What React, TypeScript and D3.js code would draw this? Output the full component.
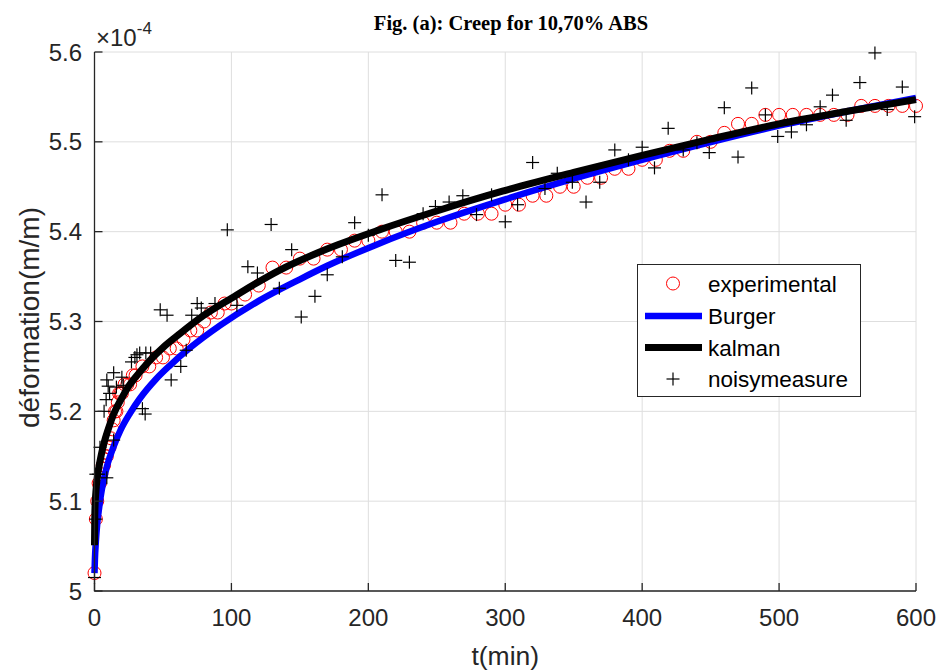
import React from "react";
import * as d3 from "d3";

// Experimental data (t in min, deformation in 1e-4 m/m)
const expT = [0,1,2,3,4,5,6,7,8,9,10,11,12,13,14,15,16,17,18,19,20,22,24,26,28,30,35,40,45,50,55,60,65,70,75,80,85,90,95,100,
  110,120,130,140,150,160,170,180,190,200,210,220,230,240,250,260,270,280,290,300,310,320,330,340,350,360,370,380,390,400,
  410,420,430,440,450,460,470,480,490,500,510,520,530,540,550,560,570,580,590,600];
const expV = [5.02,5.08,5.10,5.12,5.12,5.13,5.14,5.14,5.15,5.15,5.16,5.16,5.17,5.18,5.19,5.20,5.20,5.21,5.22,5.22,5.22,5.23,5.23,5.23,5.24,5.24,5.25,5.25,5.26,5.26,5.27,5.27,5.28,5.29,5.29,5.30,5.31,5.31,5.32,5.32,
  5.33,5.34,5.36,5.36,5.37,5.37,5.38,5.38,5.39,5.39,5.40,5.40,5.40,5.41,5.41,5.41,5.42,5.42,5.42,5.43,5.43,5.44,5.44,5.45,5.45,5.46,5.46,5.47,5.47,5.48,
  5.48,5.49,5.49,5.50,5.50,5.51,5.52,5.52,5.53,5.53,5.53,5.53,5.53,5.53,5.53,5.54,5.54,5.54,5.54,5.54];

// Burger model
const burgerT = [0,0.3,1,2,3,4.5,6.5,9.3,14,19,26,33,45,55,70,92,120,150,170,205,250,300,350,420,500,550,600];
const burgerV = [5.02,5.035,5.055,5.075,5.088,5.105,5.122,5.14,5.161,5.179,5.198,5.214,5.236,5.251,5.271,5.296,5.323,5.347,5.362,5.385,5.411,5.436,5.459,5.488,5.518,5.534,5.549];

// Kalman estimate
const kalmanT = [0,0.2,0.5,1,2,3,5,7,10,14,20,25,30,40,50,62,80,100,135,172,208,250,298,350,400,450,500,550,600];
const kalmanV = [5.051,5.082,5.098,5.110,5.126,5.136,5.152,5.165,5.180,5.197,5.215,5.228,5.238,5.256,5.271,5.286,5.307,5.326,5.357,5.382,5.402,5.423,5.445,5.466,5.485,5.503,5.520,5.534,5.547];

// Noisy measurements
const noisyT = [0,1,1,3,4,7,9,8.5,10,11,9,14,14,16,20,21,27,29.5,31,33,37.5,41,35,37,
  48,53,56,63,67,71,75,78,88,97,104,112,119,129,135,144,151,161,170,181,190,200,210,220,230,240,249,259,269,279,290,300,309,
  320,329,338,349,359,369,380,390,400,409,419,430,440,449,460,470,480,490,499,509,520,530,539,549,559,570,579,590,599];
const noisyV = [5.015,5.08,5.13,5.13,5.16,5.20,5.126,5.213,5.228,5.22,5.235,5.168,5.243,5.227,5.238,5.229,5.255,5.26,5.263,5.265,5.265,5.265,5.203,5.197,
  5.313,5.307,5.235,5.25,5.268,5.307,5.32,5.315,5.32,5.402,5.318,5.361,5.354,5.408,5.337,5.38,5.305,5.328,5.352,5.372,5.41,5.396,5.441,5.368,5.366,5.42,5.428,5.433,5.44,5.419,5.441,5.411,5.43,
  5.477,5.448,5.465,5.455,5.433,5.455,5.491,5.48,5.494,5.471,5.515,5.491,5.499,5.488,5.538,5.483,5.56,5.53,5.506,5.511,5.519,5.539,5.552,5.524,5.566,5.599,5.536,5.561,5.528];

const xTicks = [0,100,200,300,400,500,600];
const yTicks = [5,5.1,5.2,5.3,5.4,5.5,5.6];
const legendLabels = ["experimental","Burger","kalman","noisymeasure"];

const W = 938, H = 671;
const FONT = "'Liberation Sans', Arial, Helvetica, sans-serif";
const AX = "#262626";

export default function App() {
  const x = d3.scaleLinear().domain([0, 600]).range([94.5, 916]);
  const y = d3.scaleLinear().domain([5.0, 5.6]).range([591, 52]);
  const line = d3.line<[number, number]>().x(d => x(d[0])).y(d => y(d[1])).curve(d3.curveMonotoneX);
  const burger = burgerT.map((t, i) => [t, burgerV[i]] as [number, number]);
  const kalman = kalmanT.map((t, i) => [t, kalmanV[i]] as [number, number]);
  const [x0, x1] = x.range();
  const [y0, y1] = y.range();
  const arm = 6.5;
  const lgX = 637.5, lgY = 264.5, lgW = 223, lgH = 132;
  const rows = [283.5, 316, 347.5, 379];
  return (
    <div style={{ position: "absolute", left: 0, top: 0 }}>
      <svg width={W} height={H} style={{ display: "block", background: "#fff" }}>
        <rect x={0} y={0} width={W} height={H} fill="#fff" />
        {xTicks.map(t => (
          <line key={"gx" + t} x1={x(t)} x2={x(t)} y1={y0} y2={y1} stroke="#dedede" strokeWidth={1} />
        ))}
        {yTicks.map(v => (
          <line key={"gy" + v} x1={x0} x2={x1} y1={y(v)} y2={y(v)} stroke="#dedede" strokeWidth={1} />
        ))}
        {expT.map((t, i) => (
          <circle key={"e" + i} cx={x(t)} cy={y(expV[i])} r={6.5} fill="none" stroke="#ff0000" strokeWidth={1} />
        ))}
        <path d={line(burger) || ""} fill="none" stroke="#0000ff" strokeWidth={6.5} />
        <path d={line(kalman) || ""} fill="none" stroke="#000000" strokeWidth={7} />
        {noisyT.map((t, i) => {
          const cx = x(t), cy = y(noisyV[i]);
          return (
            <g key={"n" + i} stroke="#000" strokeWidth={1.2}>
              <line x1={cx - arm} x2={cx + arm} y1={cy} y2={cy} />
              <line x1={cx} x2={cx} y1={cy - arm} y2={cy + arm} />
            </g>
          );
        })}
        <line x1={x0} x2={x0} y1={y0 + 0.5} y2={y1} stroke={AX} strokeWidth={1.3} />
        <line x1={x0} x2={x1} y1={y0} y2={y0} stroke={AX} strokeWidth={1.3} />
        {xTicks.map(t => (
          <g key={"xt" + t}>
            <line x1={x(t)} x2={x(t)} y1={y0} y2={y0 - 8} stroke={AX} strokeWidth={1.3} />
            <text x={x(t)} y={626} textAnchor="middle" fontFamily={FONT} fontSize={24} fill={AX}>{t}</text>
          </g>
        ))}
        {yTicks.map(v => (
          <g key={"yt" + v}>
            <line x1={x0} x2={x0 + 8} y1={y(v)} y2={y(v)} stroke={AX} strokeWidth={1.3} />
            <text x={82} y={y(v) + 8.5} textAnchor="end" fontFamily={FONT} fontSize={24} fill={AX}>{String(v)}</text>
          </g>
        ))}
        <text x={96} y={46} fontFamily={FONT} fontSize={24} fill={AX}>
          ×10<tspan fontSize={17} dy={-12}>-4</tspan>
        </text>
        <text x={(x0 + x1) / 2} y={665} textAnchor="middle" fontFamily={FONT} fontSize={26.5} fill={AX}>t(min)</text>
        <text transform={`translate(39,${(y0 + y1) / 2 - 4}) rotate(-90)`} textAnchor="middle" fontFamily={FONT} fontSize={28} fill={AX}>déformation(m/m)</text>
        <text x={511} y={30} textAnchor="middle" fontFamily="'Liberation Serif', 'Times New Roman', serif" fontWeight="bold" fontSize={20.5} fill="#000">Fig. (a): Creep for 10,70% ABS</text>
        <rect x={lgX} y={lgY} width={lgW} height={lgH} fill="#fff" stroke={AX} strokeWidth={1} />
        <circle cx={673} cy={rows[0]} r={6.5} fill="none" stroke="#ff0000" strokeWidth={1} />
        <line x1={645} x2={702} y1={rows[1]} y2={rows[1]} stroke="#0000ff" strokeWidth={6.5} />
        <line x1={645} x2={702} y1={rows[2]} y2={rows[2]} stroke="#000" strokeWidth={7} />
        <g stroke="#000" strokeWidth={1.2}>
          <line x1={673 - arm} x2={673 + arm} y1={rows[3]} y2={rows[3]} />
          <line x1={673} x2={673} y1={rows[3] - arm} y2={rows[3] + arm} />
        </g>
        {legendLabels.map((l, i) => (
          <text key={l} x={708} y={rows[i] + 8} fontFamily={FONT} fontSize={22.5} fill="#000">{l}</text>
        ))}
      </svg>
    </div>
  );
}
